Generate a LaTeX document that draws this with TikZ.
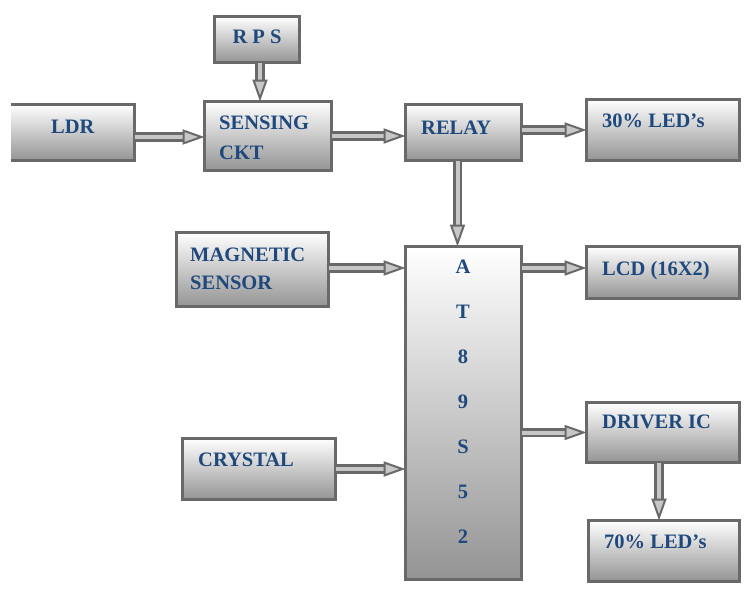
\documentclass[tikz,border=0pt]{standalone}
\usepackage{fontspec}
\setmainfont{Liberation Serif}
\usetikzlibrary{arrows.meta}
\definecolor{txtblue}{RGB}{31,73,125}
\definecolor{bord}{RGB}{105,105,105}
\tikzset{
  box/.style={draw=bord, line width=3pt, top color=white, bottom color=black!42,
    inner sep=0pt, outer sep=0pt, rectangle},
  lbl/.style={inner sep=0pt, anchor=base west, text=txtblue, font=\fontsize{20.5}{24}\selectfont\bfseries},
  chip/.style={inner sep=0pt, anchor=base, text=txtblue, font=\fontsize{20.5}{24}\selectfont\bfseries},
  arr/.style={draw=bord, line width=2.6pt, double=black!22, double distance=4pt,
    -{Triangle[open, length=22pt, width=15pt, line width=2pt, fill=black!22]}},
}
\begin{document}
\begin{tikzpicture}[x=1pt,y=-1pt]
\useasboundingbox (0,0) rectangle (744,589);
% boxes
\node[box, minimum width=85pt, minimum height=46pt] (rps) at (257,39.5) {};
\begin{scope}
\clip (11,0) rectangle (744,589);
\node[box, minimum width=143pt, minimum height=56pt] (ldr) at (63,132.5) {};
\end{scope}
\node[box, minimum width=127pt, minimum height=69pt] (sens) at (268,136) {};
\node[box, minimum width=116pt, minimum height=56pt] (relay) at (463.5,132.5) {};
\node[box, minimum width=153pt, minimum height=61pt] (led30) at (663,130) {};
\node[box, minimum width=116pt, minimum height=333pt] (at) at (463.5,413) {};
\node[box, minimum width=152pt, minimum height=74pt] (mag) at (252.5,269.5) {};
\node[box, minimum width=153pt, minimum height=52pt] (lcd) at (663,272.5) {};
\node[box, minimum width=153pt, minimum height=61pt] (cry) at (259,469) {};
\node[box, minimum width=153pt, minimum height=60pt] (drv) at (663,432.5) {};
\node[box, minimum width=151pt, minimum height=61pt] (led70) at (664,551) {};
% texts
\node[lbl, anchor=base] (trps) at (257,43) {R P S};
\node[lbl] (tldr) at (51,133) {LDR};
\node[lbl] (tsens1) at (219,129) {SENSING};
\node[lbl] (tsens2) at (219,159) {CKT};
\node[lbl] (trelay) at (421,134) {RELAY};
\node[lbl] (tled30) at (602,127) {30\% LED’s};
\node[lbl] (tmag1) at (190,261) {MAGNETIC};
\node[lbl] (tmag2) at (190,289) {SENSOR};
\node[lbl] (tlcd) at (602,275) {LCD (16X2)};
\node[lbl] (tcry) at (198,466) {CRYSTAL};
\node[lbl] (tdrv) at (602,428) {DRIVER IC};
\node[lbl] (tled70) at (604,548) {70\% LED’s};
\node[chip] (c1) at (463,273) {A};
\node[chip] (c2) at (463,318) {T};
\node[chip] (c3) at (463,363) {8};
\node[chip] (c4) at (463,408) {9};
\node[chip] (c5) at (463,453) {S};
\node[chip] (c6) at (463,498) {5};
\node[chip] (c7) at (463,543) {2};
% arrows
\draw[arr] ([xshift=3pt]rps.south) -- ([xshift=3pt]rps.south |- sens.north);
\draw[arr] ([yshift=-4.5pt]ldr.east) -- ([yshift=-4.5pt]ldr.east -| sens.west);
\draw[arr] (sens.east) -- (sens.east -| relay.west);
\draw[arr] (led30.west -| relay.east) -- (led30.west);
\draw[arr] ([xshift=-6pt]relay.south) -- ([xshift=-6pt]relay.south |- at.north);
\draw[arr] ([yshift=1.5pt]mag.east) -- ([yshift=1.5pt]mag.east -| at.west);
\draw[arr] ([yshift=4.5pt]lcd.west -| at.east) -- ([yshift=4.5pt]lcd.west);
\draw[arr] (cry.east) -- (cry.east -| at.west);
\draw[arr] (drv.west -| at.east) -- (drv.west);
\draw[arr] ([xshift=-4pt]drv.south) -- ([xshift=-4pt]drv.south |- led70.north);
\end{tikzpicture}
\end{document}
